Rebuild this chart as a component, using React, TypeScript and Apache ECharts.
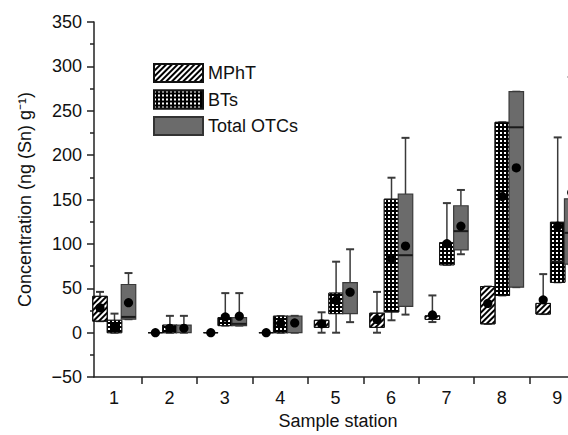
import React, { useEffect, useRef } from "react";
import * as echarts from "echarts";

// Sample stations (x categories) and tick positions
const stations = [1, 2, 3, 4, 5, 6, 7, 8, 9];
const stationTickValues = [1.5, 2.5, 3.5, 4.5, 5.5, 6.5, 7.5, 8.5];
const yTickLabels = [-50, 0, 50, 100, 150, 200, 250, 300, 350];

// Each row: [whiskerMin, Q1, median (null = not drawn), Q3, whiskerMax, mean]
const mphtStats: (number | null)[][] = [
  [13, 13, null, 41, 46, 28],
  [0, 0, null, 0, 0, 0],
  [0, 0, null, 0, 0, 0],
  [0, 0, null, 0, 0, 0],
  [0, 6, null, 14, 23, 10],
  [0, 6, null, 22, 46, 15],
  [12, 15, null, 19, 42, 20],
  [10, 10, null, 52, 52, 33],
  [21, 21, null, 33, 66, 37],
];
const btsStats: (number | null)[][] = [
  [0, 0, null, 14, 21.5, 6.5],
  [0, 0, null, 8.5, 19, 5],
  [8, 8, null, 17, 44.6, 17.8],
  [0, 0, null, 18.6, 18.6, 10.4],
  [0, 21.5, null, 44.6, 80, 36.4],
  [14, 23.4, null, 150.4, 174.6, 83.6],
  [76.5, 76.5, null, 101.4, 146, 100.3],
  [42, 42, null, 237, 237, 153.4],
  [56.8, 56.8, 80.2, 124.4, 220, 120],
];
const totalStats: (number | null)[][] = [
  [15.2, 15.2, 17.8, 54.3, 67.2, 33.8],
  [0, 0, null, 8.6, 19, 5],
  [8, 8, 10, 17, 44.6, 18.6],
  [0, 0, null, 18.6, 19, 11],
  [11.9, 21.5, null, 56.5, 94, 45.7],
  [20.4, 29.7, 87.3, 156, 219.5, 97.7],
  [88.4, 93.3, 114.4, 143, 160.8, 120],
  [51.3, 51.3, 231.4, 271.5, 271.5, 185.7],
  [77.2, 77.2, 112.5, 150.8, 288, 158],
];

const FONT = "'Liberation Sans', Arial, Helvetica, sans-serif";

const mphtDecal = {
  symbol: "rect",
  symbolSize: 1,
  color: "#000",
  dashArrayX: [1, 0],
  dashArrayY: [2, 2],
  rotation: -Math.PI / 4,
};
const btsDecal = {
  symbol: "rect",
  symbolSize: 1,
  color: "#fff",
  dashArrayX: [2, 1.3],
  dashArrayY: [2, 1.3],
  rotation: 0,
};

function buildData(stats: (number | null)[][]) {
  return stations.map((s, i) => [s, ...stats[i].map((v) => (v == null ? "-" : v))]);
}

function makeRender(offset: number, boxStyle: any) {
  return (params: any, api: any) => {
    const s = api.value(0);
    const c = (v: number) => api.coord([s, v]);
    const cx = c(0)[0] + offset;
    const yMin = c(api.value(1))[1];
    const yQ1 = c(api.value(2))[1];
    const med = api.value(3);
    const yQ3 = c(api.value(4))[1];
    const yMax = c(api.value(5))[1];
    const yMean = c(api.value(6))[1];
    const w = 14.5;
    const cap = 4;
    const wStyle = { stroke: "#3a3a3a", lineWidth: 1.5 };
    const children: any[] = [
      { type: "line", shape: { x1: cx, y1: yMax, x2: cx, y2: yQ3 }, style: wStyle },
      { type: "line", shape: { x1: cx, y1: yQ1, x2: cx, y2: yMin }, style: wStyle },
      { type: "line", shape: { x1: cx - cap, y1: yMax, x2: cx + cap, y2: yMax }, style: { stroke: "#3a3a3a", lineWidth: 2 } },
      { type: "line", shape: { x1: cx - cap, y1: yMin, x2: cx + cap, y2: yMin }, style: { stroke: "#3a3a3a", lineWidth: 2 } },
      {
        type: "rect",
        shape: { x: cx - w / 2, y: yQ3, width: w, height: yQ1 - yQ3 },
        style: { ...boxStyle },
      },
    ];
    if (!isNaN(med)) {
      const yMed = c(med)[1];
      children.push({
        type: "line",
        shape: { x1: cx - w / 2, y1: yMed, x2: cx + w / 2, y2: yMed },
        style: { stroke: "#1a1a1a", lineWidth: 2 },
      });
    }
    children.push({ type: "circle", shape: { cx, cy: yMean, r: 4.6 }, style: { fill: "#000" } });
    return { type: "group", children };
  };
}

export default function App() {
  const ref = useRef<HTMLDivElement>(null);
  useEffect(() => {
    if (!ref.current) return;
    const chart = echarts.init(ref.current, undefined, { renderer: "svg" });
    const xMin = 1 - 20 / 55.4;
    const xMax = xMin + 474 / 55.4;
    const mphtBox = { fill: "#fff", stroke: "#111", lineWidth: 1, decal: mphtDecal };
    const btsBox = { fill: "#000", stroke: "#111", lineWidth: 1, decal: btsDecal };
    const totalBox = { fill: "#6b6b6b", stroke: "#3a3a3a", lineWidth: 1.2 };
    chart.setOption({
      animation: false,
      textStyle: { fontFamily: FONT },
      grid: { left: 94, right: 0, top: 22, bottom: 53 },
      legend: {
        left: 148,
        top: 58,
        orient: "vertical",
        icon: "rect",
        itemWidth: 49,
        itemHeight: 18,
        itemGap: 6.5,
        textStyle: { fontSize: 18, color: "#111", fontFamily: FONT },
        data: ["MPhT", "BTs", "Total OTCs"],
      },
      xAxis: {
        type: "value",
        min: xMin,
        max: xMax,
        name: "Sample station",
        nameLocation: "middle",
        nameGap: 34,
        nameTextStyle: { fontSize: 18, color: "#111", fontFamily: FONT, padding: [0, 0, 0, 14] },
        splitLine: { show: false },
        axisLine: { show: true, onZero: false, lineStyle: { color: "#222", width: 1.5 } },
        axisTick: { show: true, length: 7, customValues: stationTickValues, lineStyle: { color: "#222", width: 1.5 } },
        axisLabel: { customValues: stations, fontSize: 18, color: "#111", margin: 12, fontFamily: FONT },
      },
      yAxis: {
        type: "value",
        min: yTickLabels[0],
        max: yTickLabels[yTickLabels.length - 1],
        interval: 50,
        name: "Concentration (ng (Sn) g\u207B\u00B9)",
        nameLocation: "middle",
        nameGap: 60,
        nameTextStyle: { fontSize: 18, color: "#111", fontFamily: FONT },
        splitLine: { show: false },
        axisLine: { show: true, onZero: false, lineStyle: { color: "#222", width: 1.5 } },
        axisTick: { show: true, length: 7, lineStyle: { color: "#222", width: 1.5 } },
        minorTick: { show: true, splitNumber: 2, length: 4, lineStyle: { color: "#222", width: 1.5 } },
        axisLabel: {
          fontSize: 18,
          color: "#111",
          margin: 12,
          fontFamily: FONT,
          formatter: (v: number) => String(v).replace("-", "\u2212"),
        },
      },
      series: [
        {
          name: "MPhT",
          type: "custom",
          renderItem: makeRender(-14, mphtBox),
          itemStyle: { color: "#fff", borderColor: "#111", borderWidth: 1, decal: mphtDecal },
          encode: { x: 0, y: [1, 2, 4, 5, 6] },
          data: buildData(mphtStats),
        },
        {
          name: "BTs",
          type: "custom",
          renderItem: makeRender(0.5, btsBox),
          itemStyle: { color: "#000", borderColor: "#111", borderWidth: 1, decal: btsDecal },
          encode: { x: 0, y: [1, 2, 4, 5, 6] },
          data: buildData(btsStats),
        },
        {
          name: "Total OTCs",
          type: "custom",
          renderItem: makeRender(14.5, totalBox),
          itemStyle: { color: "#6b6b6b", borderColor: "#333", borderWidth: 2 },
          encode: { x: 0, y: [1, 2, 4, 5, 6] },
          data: buildData(totalStats),
        },
      ],
    });
    return () => chart.dispose();
  }, []);
  return (
    <div
      ref={ref}
      style={{ position: "absolute", left: 0, top: 0, width: 568, height: 435, background: "#fff" }}
    />
  );
}
